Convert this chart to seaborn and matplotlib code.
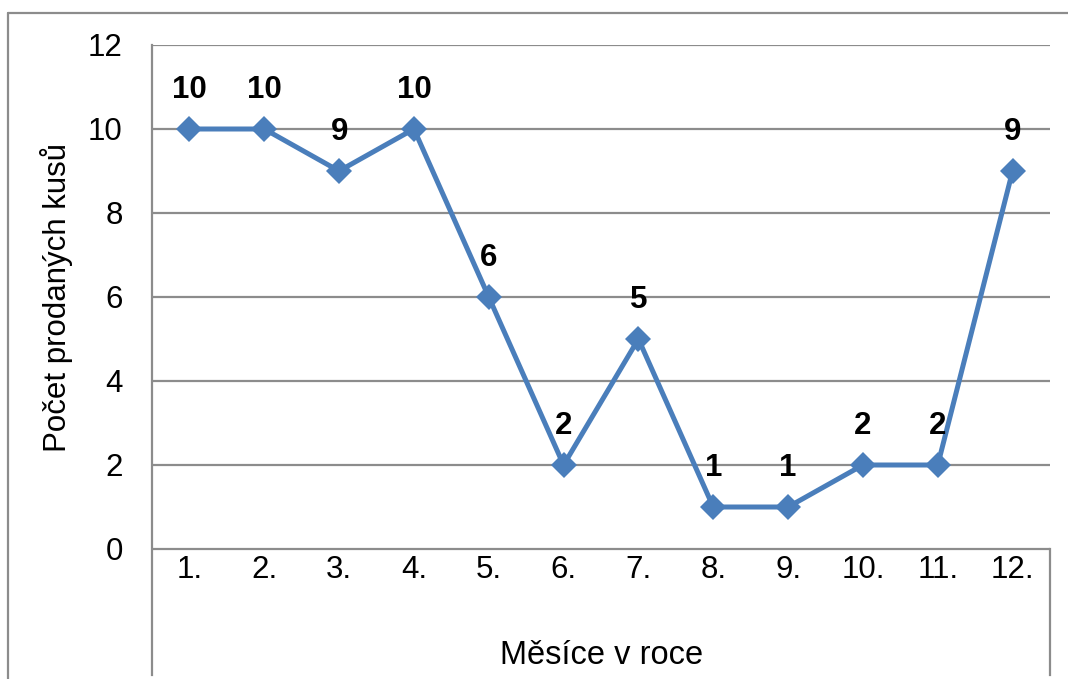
import matplotlib
matplotlib.use("Agg")
import matplotlib.pyplot as plt
import seaborn as sns
import pandas as pd
from matplotlib.lines import Line2D

# data
mesice = ["1.", "2.", "3.", "4.", "5.", "6.", "7.", "8.", "9.", "10.", "11.", "12."]
pocet = [10, 10, 9, 10, 6, 2, 5, 1, 1, 2, 2, 9]
y_ticks = [0, 2, 4, 6, 8, 10, 12]

df = pd.DataFrame({"pozice": range(1, len(mesice) + 1), "mesic": mesice, "pocet": pocet})

sns.set_style("white")
plt.rcParams["font.family"] = ["Liberation Sans", "DejaVu Sans"]
plt.rcParams["text.color"] = "black"

W, H = 1068, 679
fig = plt.figure(figsize=(W / 100, H / 100), dpi=100)

# plot area: x 152..1050 px, y 45..675 px (value 0 sits at y=549)
ax = fig.add_axes([152 / W, (H - 675) / H, 898 / W, 630 / H])
ax.set_xlim(0.5, 12.5)
ax.set_ylim(-3, 12)

grid_color = "#8c8c8c"
fs = 22.5
for v in y_ticks:
    ax.axhline(v, color=grid_color, lw=1.6, zorder=1)

sns.lineplot(data=df, x="pozice", y="pocet", ax=ax, color="#4a7ebb",
             linewidth=3.6, marker="D", markersize=13, markeredgewidth=0,
             zorder=3)

for x, y in zip(df["pozice"], df["pocet"]):
    ax.annotate(str(y), (x, y), xytext=(0, 28), textcoords="offset points",
                ha="center", va="center", fontsize=fs, fontweight="bold",
                color="black")

# x category labels below zero line
for x, lab in zip(df["pozice"], df["mesic"]):
    ax.text(x, -0.5, lab, ha="center", va="center", fontsize=fs, color="black")

ax.set_yticks(y_ticks)
ax.set_yticklabels([str(v) for v in y_ticks], fontsize=fs, color="black")
ax.set_xticks([])
ax.tick_params(axis="y", length=0, pad=21)
ax.set_xlabel("")
ax.set_ylabel("")

for side in ["top", "bottom"]:
    ax.spines[side].set_visible(False)
ax.spines["left"].set_color(grid_color)
ax.spines["left"].set_linewidth(1.6)
ax.spines["right"].set_color(grid_color)
ax.spines["right"].set_linewidth(1.6)
ax.spines["right"].set_bounds(-3, 0)

fig.text(57 / W, 1 - 298 / H, "Počet prodaných kusů", rotation=90,
         ha="center", va="center", fontsize=fs, color="black")
fig.text(602 / W, 1 - 655 / H, "Měsíce v roce", ha="center", va="center",
         fontsize=23.5, color="black")

# outer chart border (left and top edges visible)
fig.add_artist(Line2D([8 / W, 8 / W], [0, 1 - 13 / H], color=grid_color, lw=1.6))
fig.add_artist(Line2D([8 / W, 1], [1 - 13 / H, 1 - 13 / H], color=grid_color, lw=1.6))

fig.savefig("out.png", dpi=100)
